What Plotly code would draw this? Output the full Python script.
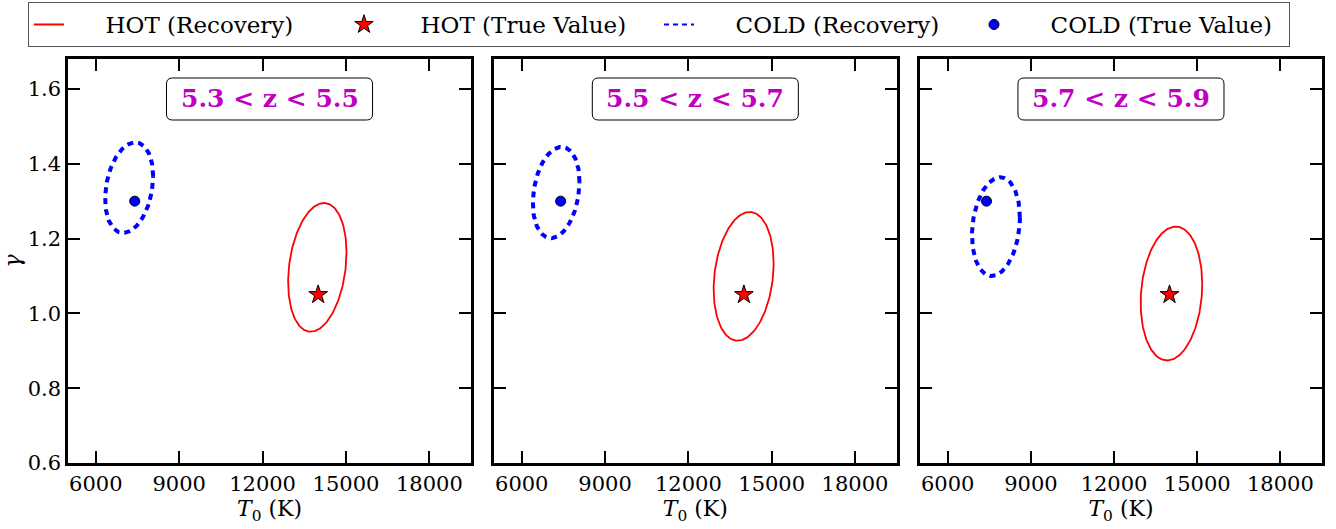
import numpy as np
import plotly.graph_objects as go
from plotly.subplots import make_subplots

# ── Data ──────────────────────────────────────────────────────────────────────
z_bins = ["5.3 < z < 5.5", "5.5 < z < 5.7", "5.7 < z < 5.9"]

# true input parameters
hot_true_T0, hot_true_gamma = 14000, 1.05
cold_true_T0, cold_true_gamma = 7400, 1.30

# recovered contours: centre, 1-sigma extent in each axis and correlation
hot_cx = [13970, 13990, 14070]
hot_cy = [1.123, 1.099, 1.053]
hot_sx = [1050, 1080, 1110]
hot_sy = [0.172, 0.172, 0.179]
hot_rho = [0.23, 0.20, 0.14]

cold_cx = [7200, 7240, 7740]
cold_cy = [1.336, 1.323, 1.232]
cold_sx = [864, 840, 864]
cold_sy = [0.121, 0.122, 0.132]
cold_rho = [0.25, 0.23, 0.18]

x_ticks = [6000, 9000, 12000, 15000, 18000]
y_ticks = [0.6, 0.8, 1.0, 1.2, 1.4, 1.6]

RED = "#FF0000"
BLUE = "#0000FF"
MAGENTA = "#BF00BF"
SERIF = "DejaVu Serif"
PAD = "\u00a0" * 5  # gap between legend symbol and its label


def contour(cx, cy, sx, sy, rho, n=200):
    t = np.linspace(0, 2 * np.pi, n)
    x = cx + sx * np.cos(t)
    y = cy + sy * (rho * np.cos(t) + np.sqrt(1 - rho ** 2) * np.sin(t))
    return x, y


fig = make_subplots(rows=1, cols=3, horizontal_spacing=0.0)
domains = [(0.0, 0.3214), (0.3397, 0.6608), (0.6794, 1.0)]

for i in range(3):
    col = i + 1
    hx, hy = contour(hot_cx[i], hot_cy[i], hot_sx[i], hot_sy[i], hot_rho[i])
    cxs, cys = contour(cold_cx[i], cold_cy[i], cold_sx[i], cold_sy[i], cold_rho[i])

    fig.add_trace(go.Scatter(x=hx, y=hy, mode="lines", line=dict(color=RED, width=1.8),
                             name="HOT (Recovery)", showlegend=False, hoverinfo="skip"),
                  row=1, col=col)
    fig.add_trace(go.Scatter(x=cxs, y=cys, mode="lines",
                             line=dict(color=BLUE, width=4, dash="6px,5px"),
                             name="COLD (Recovery)", showlegend=False, hoverinfo="skip"),
                  row=1, col=col)
    fig.add_trace(go.Scatter(x=[hot_true_T0], y=[hot_true_gamma], mode="markers",
                             marker=dict(symbol="star", size=14, color=RED,
                                         line=dict(color="black", width=1)),
                             name="HOT (True Value)", showlegend=False),
                  row=1, col=col)
    fig.add_trace(go.Scatter(x=[cold_true_T0], y=[cold_true_gamma], mode="markers",
                             marker=dict(symbol="circle", size=10, color=BLUE,
                                         line=dict(color="black", width=1)),
                             name="COLD (True Value)", showlegend=False),
                  row=1, col=col)

    # redshift label in a rounded box
    x0, x1 = domains[i]
    xc = (x0 + x1) / 2
    yc = 0.901
    hw, hh = 0.1643 / 2, 0.104 / 2
    rx, ry = 6 / 1254, 6 / 404
    path = (f"M{xc-hw+rx},{yc-hh} L{xc+hw-rx},{yc-hh} Q{xc+hw},{yc-hh} {xc+hw},{yc-hh+ry} "
            f"L{xc+hw},{yc+hh-ry} Q{xc+hw},{yc+hh} {xc+hw-rx},{yc+hh} "
            f"L{xc-hw+rx},{yc+hh} Q{xc-hw},{yc+hh} {xc-hw},{yc+hh-ry} "
            f"L{xc-hw},{yc-hh+ry} Q{xc-hw},{yc-hh} {xc-hw+rx},{yc-hh} Z")
    fig.add_shape(type="path", path=path, xref="paper", yref="paper",
                  line=dict(color="black", width=1), fillcolor="white", layer="above")
    fig.add_annotation(x=xc, y=yc, xref="paper", yref="paper", text=f"<b>{z_bins[i]}</b>",
                       xanchor="center", yanchor="middle", showarrow=False,
                       font=dict(family=SERIF, size=25, color=MAGENTA))

# legend-only entries
fig.add_trace(go.Scatter(x=[None], y=[None], mode="lines", line=dict(color=RED, width=2),
                         name=PAD + "HOT (Recovery)"), row=1, col=1)
fig.add_trace(go.Scatter(x=[None], y=[None], mode="markers",
                         marker=dict(symbol="star", size=14, color=RED,
                                     line=dict(color="black", width=1)),
                         name=PAD + "HOT (True Value)"), row=1, col=1)
fig.add_trace(go.Scatter(x=[None], y=[None], mode="lines",
                         line=dict(color=BLUE, width=2, dash="5px,4px"),
                         name=PAD + "COLD (Recovery)"), row=1, col=1)
fig.add_trace(go.Scatter(x=[None], y=[None], mode="markers",
                         marker=dict(symbol="circle", size=10, color=BLUE,
                                     line=dict(color="black", width=1)),
                         name=PAD + "COLD (True Value)"), row=1, col=1)

axis_style = dict(showline=True, linecolor="black", linewidth=2.5, mirror="allticks",
                  ticks="inside", ticklen=12, tickwidth=2, tickcolor="black",
                  showgrid=False, zeroline=False,
                  tickfont=dict(family=SERIF, size=21, color="black"))

for i in range(3):
    col = i + 1
    fig.update_xaxes(axis_style, range=[5000, 19500], tickvals=x_ticks, tickformat="d",
                     domain=list(domains[i]),
                     title=dict(text="<i>T</i><sub>0</sub> (K)", standoff=4,
                                font=dict(family=SERIF, size=22, color="black")),
                     row=1, col=col)
    fig.update_yaxes(axis_style, range=[0.6, 1.68], tickvals=y_ticks, tickformat=".1f",
                     showticklabels=(col == 1), row=1, col=col)

fig.update_yaxes(title=dict(text="<i>γ</i>", standoff=14,
                            font=dict(family=SERIF, size=22, color="black")), row=1, col=1)

fig.update_layout(
    width=1336, height=529,
    margin=dict(l=68, r=14, t=59, b=66, autoexpand=False),
    paper_bgcolor="white", plot_bgcolor="white",
    font=dict(family=SERIF, color="black"),
    legend=dict(orientation="h", x=-0.0319, y=1.141, xanchor="left", yanchor="top",
                bordercolor="#555555", borderwidth=1, bgcolor="white",
                font=dict(family=SERIF, size=23, color="black"),
                itemwidth=30, entrywidth=270, entrywidthmode="pixels"),
)

fig.write_html("out.html", config={"displayModeBar": False},
               post_script="document.body.style.margin='0';")
